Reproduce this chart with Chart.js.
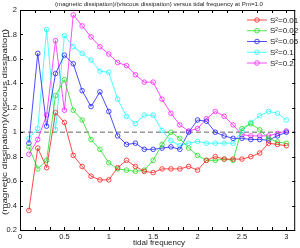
<!DOCTYPE html>
<html>
<head>
<meta charset="utf-8">
<script src="https://cdn.jsdelivr.net/npm/chart.js@4/dist/chart.umd.min.js"></script>
<style>
  html, body { margin: 0; padding: 0; background: #fff; }
  #wrap { width: 300px; height: 248px; }
</style>
</head>
<body>
<div id="wrap"><canvas id="chart" width="300" height="248"></canvas></div>
<script>
'use strict';

// tidal frequency (x) for every point
const freq = [0.1, 0.2, 0.3, 0.4, 0.5, 0.6, 0.7, 0.8, 0.9, 1.0,
	      1.1, 1.2, 1.3, 1.4, 1.5, 1.6, 1.7, 1.8, 1.9, 2.0,
	      2.1, 2.2, 2.3, 2.4, 2.5, 2.6, 2.7, 2.8, 2.9, 3.0];

// dissipation ratio, one array per S^2
const s001 = [0.36, 0.87, 0.71, 1.16, 1.08, 0.81, 0.72, 0.64, 0.61, 0.61,
	      0.71, 0.77, 0.72, 0.68, 0.67, 0.70, 0.70, 0.70, 0.72, 0.69,
	      0.77, 0.80, 0.78, 0.78, 0.78, 0.80, 0.83, 0.91, 0.90, 0.89];
const s002 = [0.88, 0.70, 0.77, 1.30, 1.43, 1.18, 1.10, 0.94, 0.86, 0.75,
	      0.70, 0.69, 0.68, 0.69, 0.77, 0.90, 1.00, 0.95, 0.87, 0.81,
	      0.77, 0.77, 0.78, 0.77, 1.03, 1.07, 1.02, 0.95, 0.92, 0.91];
const s005 = [0.91, 1.645, 1.05, 1.48, 1.63, 1.56, 1.34, 1.21, 1.33, 1.17,
	      0.97, 0.90, 0.91, 0.86, 0.86, 0.87, 0.88, 0.86, 1.00, 1.10,
	      1.09, 1.00, 0.97, 0.95, 0.95, 0.94, 0.94, 0.935, 0.97, 1.00];
const s01 = [0.95, 1.03, 1.84, 1.02, 1.79, 1.70, 1.645, 1.59, 1.50, 1.49,
	     1.27, 1.13, 1.07, 1.14, 1.14, 1.015, 0.93, 0.89, 0.91, 0.925,
	     0.91, 0.91, 0.91, 0.91, 1.01, 1.08, 1.135, 1.17, 1.155, 1.10];
const s02 = [0.82, 0.94, 1.14, 1.75, 1.18, 1.96, 1.87, 1.78, 1.70, 1.64,
	     1.57, 1.545, 1.47, 1.41, 1.41, 1.27, 1.155, 1.06, 1.01, 1.03,
	     1.11, 1.17, 1.13, 1.06, 0.98, 0.97, 0.97, 0.97, 0.99, 1.01];

const seriesNames = ['S\u00B2=0.01', 'S\u00B2=0.02', 'S\u00B2=0.05', 'S\u00B2=0.1', 'S\u00B2=0.2'];
const seriesColors = ['#ff2020', '#20e020', '#2020ff', '#20ffff', '#ff20ff'];
const seriesValues = [s001, s002, s005, s01, s02];

// reference line at ratio = 1
const refX = [0, 3.1];
const refY = [1, 1];

const xTicks = [0, 1/6, 2/6, 0.5, 4/6, 5/6, 1, 7/6, 8/6, 1.5, 10/6, 11/6, 2,
		13/6, 14/6, 2.5, 16/6, 17/6, 3];
const xLabelTicks = [0, 0.5, 1, 1.5, 2, 2.5, 3];
const yTicks = [0.2, 0.4, 0.6, 0.8, 1, 1.2, 1.4, 1.6, 1.8, 2];

const titleText = '(magnetic dissipation)/(viscous dissipation) versus tidal frequency at Pm=1.0';
const xTitle = 'tidal frequency';
const yTitle = '(magnetic dissipation)/(viscous dissipation)';

const FONT = '"Liberation Sans", Arial, sans-serif';


function fmt(v) {
    return String(Math.round(v * 10) / 10);
}

// draw centred text at a font size, stretched sideways to a given width
function stretchText(ctx, text, size, width) {
    ctx.font = size + 'px ' + FONT;
    const w = ctx.measureText(text).width;
    ctx.save();
    ctx.scale(width / w, 1);
    ctx.fillText(text, 0, 0);
    ctx.restore();
}


const datasets = seriesValues.map((vals, i) => ({
    label: seriesNames[i],
    data: vals.map((v, j) => ({x: freq[j], y: v})),
    borderColor: seriesColors[i],
    backgroundColor: 'transparent',
    borderWidth: 0.8,
    pointRadius: 2.3,
    pointStyle: 'circle',
    pointBorderColor: seriesColors[i],
    pointBackgroundColor: 'transparent',
    pointBorderWidth: 0.8,
    tension: 0,
    fill: false,
}));

datasets.push({
    label: 'ref',
    data: refX.map((x, j) => ({x: x, y: refY[j]})),
    borderColor: '#999999',
    borderWidth: 1.4,
    borderDash: [5, 3],
    pointRadius: 0,
    fill: false,
});


// box, inward ticks, titles and legend in the matlab style
const decor = {
    id: 'decor',
    afterDraw(chart) {
	const ctx = chart.ctx;
	const a = chart.chartArea;
	const xs = chart.scales.x;
	const ys = chart.scales.y;

	ctx.save();
	ctx.strokeStyle = '#000';
	ctx.lineWidth = 1;
	ctx.strokeRect(a.left + 0.5, a.top + 0.5, a.right - a.left - 1, a.bottom - a.top);

	ctx.beginPath();
	xTicks.forEach(v => {
	    const px = Math.round(xs.getPixelForValue(v)) + 0.5;
	    ctx.moveTo(px, a.bottom); ctx.lineTo(px, a.bottom - 3);
	    ctx.moveTo(px, a.top); ctx.lineTo(px, a.top + 3);
	});
	yTicks.forEach(v => {
	    const py = Math.round(ys.getPixelForValue(v)) + 0.5;
	    ctx.moveTo(a.left, py); ctx.lineTo(a.left + 3, py);
	    ctx.moveTo(a.right, py); ctx.lineTo(a.right - 3, py);
	});
	ctx.stroke();

	// titles
	ctx.fillStyle = '#222';
	ctx.textAlign = 'center';
	ctx.textBaseline = 'middle';
	ctx.save();
	ctx.translate(159, 4.5);
	stretchText(ctx, titleText, 6, 208);
	ctx.restore();

	ctx.font = '8px ' + FONT;
	ctx.fillText(xTitle, 159, 243);

	ctx.save();
	ctx.translate(4.5, 122);
	ctx.rotate(-Math.PI / 2);
	stretchText(ctx, yTitle, 7.6, 186);
	ctx.restore();

	// legend
	ctx.font = '8px ' + FONT;
	ctx.textAlign = 'left';
	seriesNames.forEach((name, i) => {
	    const y = 20 + i * 10.75;
	    ctx.strokeStyle = seriesColors[i];
	    ctx.lineWidth = 0.8;
	    ctx.beginPath();
	    ctx.moveTo(247, y); ctx.lineTo(267, y);
	    ctx.stroke();
	    ctx.beginPath();
	    ctx.arc(257, y, 2.3, 0, Math.PI * 2);
	    ctx.stroke();
	    ctx.fillStyle = '#222';
	    ctx.fillText(name, 270, y + 0.5);
	});
	ctx.restore();
    },
};


const chart = new Chart(document.querySelector('#chart'), {
    type: 'line',
    data: {datasets: datasets},
    plugins: [decor],
    options: {
	responsive: false,
	animation: false,
	devicePixelRatio: 1,
	layout: {padding: {top: 10, right: 1, left: 0, bottom: 0}},
	plugins: {
	    legend: {display: false},
	    title: {display: false},
	    tooltip: {enabled: false},
	},
	scales: {
	    x: {
		type: 'linear',
		min: 0,
		max: 3.1,
		afterBuildTicks: s => { s.ticks = xTicks.map(v => ({value: v})); },
		afterFit: s => { s.height = 18; },
		grid: {display: false, drawTicks: false},
		border: {display: false},
		ticks: {
		    padding: 2,
		    autoSkip: false,
		    maxRotation: 0,
		    color: '#222',
		    font: {family: FONT, size: 7.5},
		    callback: v => xLabelTicks.some(t => Math.abs(t - v) < 1e-6) ? fmt(v) : '',
		},
	    },
	    y: {
		min: 0.2,
		max: 2,
		afterBuildTicks: s => { s.ticks = yTicks.map(v => ({value: v})); },
		afterFit: s => { s.width = 20; },
		grid: {display: false, drawTicks: false},
		border: {display: false},
		ticks: {
		    padding: 3,
		    color: '#222',
		    font: {family: FONT, size: 7.5},
		    callback: v => fmt(v),
		},
	    },
	},
    },
});
</script>
</body>
</html>
